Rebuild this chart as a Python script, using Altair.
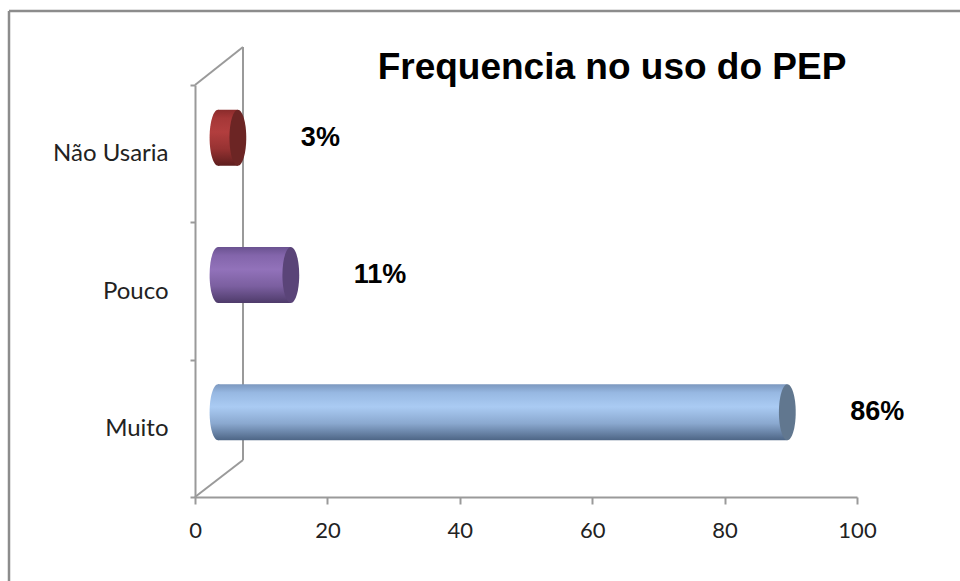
import altair as alt
import pandas as pd

# ---- data ----
categories = ["Não Usaria", "Pouco", "Muito"]
values = [3, 11, 86]
value_labels = ["3%", "11%", "86%"]
x_ticks = [0, 20, 40, 60, 80, 100]
title_text = "Frequencia no uso do PEP"

# ---- styles ----
body_stops = [
    [("#8A2B2B", 0), ("#A53737", 0.15), ("#B23E3E", 0.4), ("#973232", 0.7), ("#5E1E1E", 1)],
    [("#6A5290", 0), ("#8365AB", 0.15), ("#9272BA", 0.4), ("#7B5FA0", 0.7), ("#4E3B6A", 1)],
    [("#7C98BF", 0), ("#97B8E2", 0.15), ("#AACBF3", 0.4), ("#8AA8CF", 0.7), ("#4D6585", 1)],
]
cap_colors = ["#6C2524", "#5A4478", "#61778F"]
frame_color = "#9A9A9A"
border_color = "#8C8C8C"

W, H = 662, 412
BAR_SIZE = 56
XOFF, YOFF = 23, -16

df = pd.DataFrame({"category": categories, "value": values, "label": value_labels})
df["zero"] = 0
one = df.head(1)

x_scale = alt.Scale(domain=[0, 100], nice=False, zero=True)
y_scale = alt.Scale(domain=categories, paddingInner=0, paddingOuter=0)

x_axis = alt.Axis(values=x_ticks, title=None, grid=False, domainColor=frame_color,
                  domainWidth=2, tickColor=frame_color, tickWidth=2, tickSize=7,
                  labelFont="Lato", labelFontSize=22, labelColor="#222222",
                  labelPadding=16, labelFlush=False)
y_axis = alt.Axis(title=None, grid=False, domainColor=frame_color, domainWidth=2,
                  tickColor=frame_color, tickWidth=2, tickSize=5, tickBand="extent",
                  labelFont="Lato", labelFontSize=24, labelColor="#222222",
                  labelPadding=22)


def line(x, x2, y, y2, color=frame_color, w=2):
    return alt.Chart(one).mark_rule(color=color, strokeWidth=w).encode(
        x=alt.value(x), x2=alt.value(x2), y=alt.value(y), y2=alt.value(y2))


frame = [
    # outer chart border (top and left visible)
    line(-186, 800, -74, -74, border_color, 2.5),
    line(-186, -186, -74, 520, border_color, 2.5),
    # 3D back wall
    line(48, 48, -38, 375),
    line(0, 48, 0, -38),
    line(0, 48, H, 375),
]

k = 0.5523
rx = 0.3
ellipse = (f"M0,-1 C{rx*k},-1 {rx},-{k} {rx},0 C{rx},{k} {rx*k},1 0,1 "
           f"C-{rx*k},1 -{rx},{k} -{rx},0 C-{rx},-{k} -{rx*k},-1 0,-1 Z")

y_enc = alt.Y("category:N", scale=y_scale, sort=categories, axis=y_axis)

bars = []
for cat, stops in zip(categories, body_stops):
    grad = alt.LinearGradient(
        gradient="linear",
        stops=[alt.GradientStop(color=c, offset=o) for c, o in stops],
        x1=0, x2=0, y1=0, y2=1)
    sub = alt.Chart(df).transform_filter(alt.datum.category == cat)
    # rounded left end of the cylinder
    bars.append(
        sub.mark_point(shape=ellipse, size=BAR_SIZE ** 2, filled=True, opacity=1,
                       color=grad, xOffset=XOFF, yOffset=YOFF)
        .encode(x=alt.X("zero:Q", scale=x_scale, axis=x_axis), y=y_enc)
    )
    bars.append(
        sub.mark_bar(color=grad, size=BAR_SIZE, xOffset=XOFF, x2Offset=XOFF, yOffset=YOFF)
        .encode(x=alt.X("value:Q", scale=x_scale, axis=x_axis), y=y_enc)
    )

caps = alt.Chart(df).mark_point(
    shape=ellipse, size=BAR_SIZE ** 2, filled=True, opacity=1,
    xOffset=XOFF, yOffset=YOFF
).encode(
    x=alt.X("value:Q", scale=x_scale),
    y=alt.Y("category:N", scale=y_scale, sort=categories),
    color=alt.Color("category:N", scale=alt.Scale(domain=categories, range=cap_colors), legend=None),
)

texts = alt.Chart(df).mark_text(
    align="left", baseline="middle", dx=86, dy=YOFF,
    font="Liberation Sans", fontSize=27, fontWeight="bold", color="black"
).encode(
    x=alt.X("value:Q", scale=x_scale),
    y=alt.Y("category:N", scale=y_scale, sort=categories),
    text="label:N",
)

title = alt.Chart(one).mark_text(
    text=title_text, font="Liberation Sans", fontSize=37, fontWeight="bold",
    align="center", baseline="alphabetic", color="black"
).encode(x=alt.value(417), y=alt.value(-6))

chart = alt.layer(*frame, *bars, caps, texts, title).properties(
    width=W, height=H,
    padding={"left": 195, "top": 85, "right": 103, "bottom": 84},
    autosize=alt.AutoSizeParams(type="none"),
    background="white",
).configure_view(stroke=None)

chart.save("out.html", embed_options={"renderer": "svg", "actions": False})
